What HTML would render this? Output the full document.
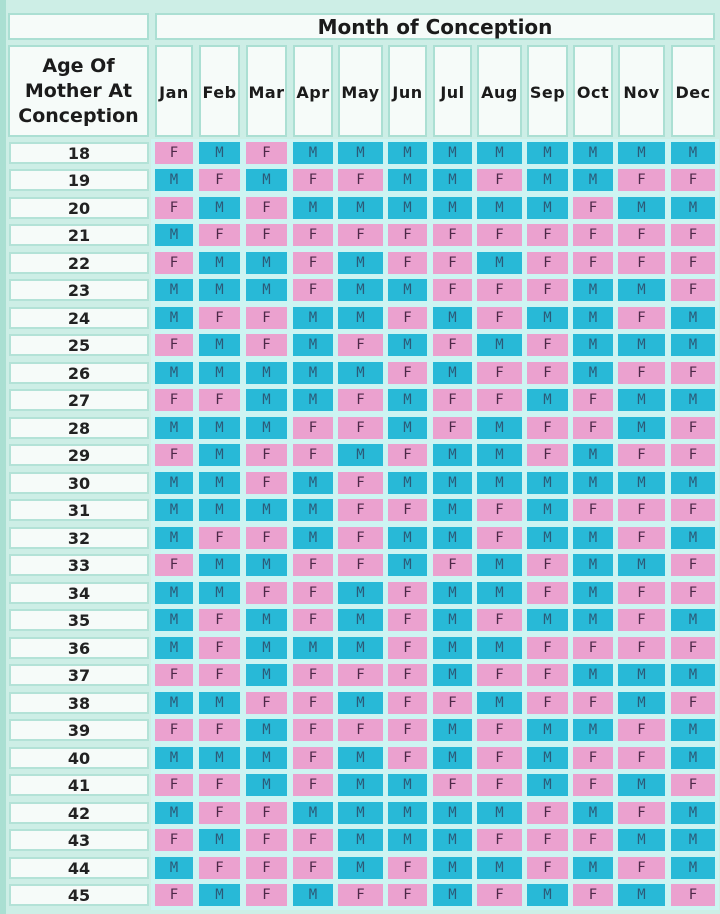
<!DOCTYPE html>
<html><head><meta charset="utf-8">
<style>
html,body{margin:0;padding:0;}
body{width:720px;height:914px;background:#cdeee6;position:relative;overflow:hidden;font-family:"DejaVu Sans","Liberation Sans",sans-serif;}
.lband{position:absolute;left:0;top:0;width:6px;height:914px;background:#aadfd2;}
.dbg{position:absolute;left:151px;top:139px;width:568px;height:771px;background:#cdf4f2;}
.hc{position:absolute;background:#f6fbf9;border:2px solid #abdfd3;box-sizing:border-box;color:#1b1b1b;font-weight:bold;display:flex;align-items:center;justify-content:center;text-align:center;}
.r{position:absolute;left:0;width:720px;height:22px;}
.r b{position:absolute;left:9px;width:140px;height:22px;top:0;background:#f6fbf9;border:2px solid #b3e2d7;box-sizing:border-box;font-size:16px;line-height:19px;text-align:center;color:#222;font-weight:bold;}
.r i{position:absolute;top:0;height:22px;font-style:normal;font-family:"DejaVu Sans Mono","Liberation Mono",monospace;font-size:14px;line-height:23px;text-align:center;}
.f{background:#eba1cf;color:#4d2848;}
.m{background:#28b9d7;color:#2c5a78;}
.r i:nth-of-type(1),.h:nth-of-type(1){left:155px;width:38px;}
.r i:nth-of-type(2),.h:nth-of-type(2){left:199px;width:41px;}
.r i:nth-of-type(3),.h:nth-of-type(3){left:246px;width:41px;}
.r i:nth-of-type(4),.h:nth-of-type(4){left:293px;width:40px;}
.r i:nth-of-type(5),.h:nth-of-type(5){left:338px;width:45px;}
.r i:nth-of-type(6),.h:nth-of-type(6){left:388px;width:39px;}
.r i:nth-of-type(7),.h:nth-of-type(7){left:433px;width:39px;}
.r i:nth-of-type(8),.h:nth-of-type(8){left:477px;width:45px;}
.r i:nth-of-type(9),.h:nth-of-type(9){left:527px;width:41px;}
.r i:nth-of-type(10),.h:nth-of-type(10){left:573px;width:40px;}
.r i:nth-of-type(11),.h:nth-of-type(11){left:618px;width:47px;}
.r i:nth-of-type(12),.h:nth-of-type(12){left:671px;width:44px;}
.hm{position:absolute;left:0;top:45px;width:720px;height:92px;}
.h{position:absolute;top:0;height:92px;background:#f6fbf9;border:2px solid #abdfd3;box-sizing:border-box;color:#1b1b1b;font-weight:bold;font-size:16px;line-height:92px;text-align:center;letter-spacing:0.5px;white-space:nowrap;overflow:visible;}
</style></head><body>
<div class="lband"></div>
<div class="dbg"></div>
<div class="hc" style="left:8px;top:13px;width:141px;height:27px;"></div>
<div class="hc" style="left:155px;top:13px;width:560px;height:27px;font-size:20px;">Month of Conception</div>
<div class="hc" style="left:8px;top:45px;width:141px;height:92px;font-size:19px;line-height:25px;">Age Of<br>Mother At<br>Conception</div>
<div class="hm"><span class="h">Jan</span><span class="h">Feb</span><span class="h">Mar</span><span class="h">Apr</span><span class="h">May</span><span class="h">Jun</span><span class="h">Jul</span><span class="h">Aug</span><span class="h">Sep</span><span class="h">Oct</span><span class="h">Nov</span><span class="h">Dec</span></div>

<div class="r" style="top:142px"><b>18</b><i class="f">F</i><i class="m">M</i><i class="f">F</i><i class="m">M</i><i class="m">M</i><i class="m">M</i><i class="m">M</i><i class="m">M</i><i class="m">M</i><i class="m">M</i><i class="m">M</i><i class="m">M</i></div>
<div class="r" style="top:169px"><b>19</b><i class="m">M</i><i class="f">F</i><i class="m">M</i><i class="f">F</i><i class="f">F</i><i class="m">M</i><i class="m">M</i><i class="f">F</i><i class="m">M</i><i class="m">M</i><i class="f">F</i><i class="f">F</i></div>
<div class="r" style="top:197px"><b>20</b><i class="f">F</i><i class="m">M</i><i class="f">F</i><i class="m">M</i><i class="m">M</i><i class="m">M</i><i class="m">M</i><i class="m">M</i><i class="m">M</i><i class="f">F</i><i class="m">M</i><i class="m">M</i></div>
<div class="r" style="top:224px"><b>21</b><i class="m">M</i><i class="f">F</i><i class="f">F</i><i class="f">F</i><i class="f">F</i><i class="f">F</i><i class="f">F</i><i class="f">F</i><i class="f">F</i><i class="f">F</i><i class="f">F</i><i class="f">F</i></div>
<div class="r" style="top:252px"><b>22</b><i class="f">F</i><i class="m">M</i><i class="m">M</i><i class="f">F</i><i class="m">M</i><i class="f">F</i><i class="f">F</i><i class="m">M</i><i class="f">F</i><i class="f">F</i><i class="f">F</i><i class="f">F</i></div>
<div class="r" style="top:279px"><b>23</b><i class="m">M</i><i class="m">M</i><i class="m">M</i><i class="f">F</i><i class="m">M</i><i class="m">M</i><i class="f">F</i><i class="f">F</i><i class="f">F</i><i class="m">M</i><i class="m">M</i><i class="f">F</i></div>
<div class="r" style="top:307px"><b>24</b><i class="m">M</i><i class="f">F</i><i class="f">F</i><i class="m">M</i><i class="m">M</i><i class="f">F</i><i class="m">M</i><i class="f">F</i><i class="m">M</i><i class="m">M</i><i class="f">F</i><i class="m">M</i></div>
<div class="r" style="top:334px"><b>25</b><i class="f">F</i><i class="m">M</i><i class="f">F</i><i class="m">M</i><i class="f">F</i><i class="m">M</i><i class="f">F</i><i class="m">M</i><i class="f">F</i><i class="m">M</i><i class="m">M</i><i class="m">M</i></div>
<div class="r" style="top:362px"><b>26</b><i class="m">M</i><i class="m">M</i><i class="m">M</i><i class="m">M</i><i class="m">M</i><i class="f">F</i><i class="m">M</i><i class="f">F</i><i class="f">F</i><i class="m">M</i><i class="f">F</i><i class="f">F</i></div>
<div class="r" style="top:389px"><b>27</b><i class="f">F</i><i class="f">F</i><i class="m">M</i><i class="m">M</i><i class="f">F</i><i class="m">M</i><i class="f">F</i><i class="f">F</i><i class="m">M</i><i class="f">F</i><i class="m">M</i><i class="m">M</i></div>
<div class="r" style="top:417px"><b>28</b><i class="m">M</i><i class="m">M</i><i class="m">M</i><i class="f">F</i><i class="f">F</i><i class="m">M</i><i class="f">F</i><i class="m">M</i><i class="f">F</i><i class="f">F</i><i class="m">M</i><i class="f">F</i></div>
<div class="r" style="top:444px"><b>29</b><i class="f">F</i><i class="m">M</i><i class="f">F</i><i class="f">F</i><i class="m">M</i><i class="f">F</i><i class="m">M</i><i class="m">M</i><i class="f">F</i><i class="m">M</i><i class="f">F</i><i class="f">F</i></div>
<div class="r" style="top:472px"><b>30</b><i class="m">M</i><i class="m">M</i><i class="f">F</i><i class="m">M</i><i class="f">F</i><i class="m">M</i><i class="m">M</i><i class="m">M</i><i class="m">M</i><i class="m">M</i><i class="m">M</i><i class="m">M</i></div>
<div class="r" style="top:499px"><b>31</b><i class="m">M</i><i class="m">M</i><i class="m">M</i><i class="m">M</i><i class="f">F</i><i class="f">F</i><i class="m">M</i><i class="f">F</i><i class="m">M</i><i class="f">F</i><i class="f">F</i><i class="f">F</i></div>
<div class="r" style="top:527px"><b>32</b><i class="m">M</i><i class="f">F</i><i class="f">F</i><i class="m">M</i><i class="f">F</i><i class="m">M</i><i class="m">M</i><i class="f">F</i><i class="m">M</i><i class="m">M</i><i class="f">F</i><i class="m">M</i></div>
<div class="r" style="top:554px"><b>33</b><i class="f">F</i><i class="m">M</i><i class="m">M</i><i class="f">F</i><i class="f">F</i><i class="m">M</i><i class="f">F</i><i class="m">M</i><i class="f">F</i><i class="m">M</i><i class="m">M</i><i class="f">F</i></div>
<div class="r" style="top:582px"><b>34</b><i class="m">M</i><i class="m">M</i><i class="f">F</i><i class="f">F</i><i class="m">M</i><i class="f">F</i><i class="m">M</i><i class="m">M</i><i class="f">F</i><i class="m">M</i><i class="f">F</i><i class="f">F</i></div>
<div class="r" style="top:609px"><b>35</b><i class="m">M</i><i class="f">F</i><i class="m">M</i><i class="f">F</i><i class="m">M</i><i class="f">F</i><i class="m">M</i><i class="f">F</i><i class="m">M</i><i class="m">M</i><i class="f">F</i><i class="m">M</i></div>
<div class="r" style="top:637px"><b>36</b><i class="m">M</i><i class="f">F</i><i class="m">M</i><i class="m">M</i><i class="m">M</i><i class="f">F</i><i class="m">M</i><i class="m">M</i><i class="f">F</i><i class="f">F</i><i class="f">F</i><i class="f">F</i></div>
<div class="r" style="top:664px"><b>37</b><i class="f">F</i><i class="f">F</i><i class="m">M</i><i class="f">F</i><i class="f">F</i><i class="f">F</i><i class="m">M</i><i class="f">F</i><i class="f">F</i><i class="m">M</i><i class="m">M</i><i class="m">M</i></div>
<div class="r" style="top:692px"><b>38</b><i class="m">M</i><i class="m">M</i><i class="f">F</i><i class="f">F</i><i class="m">M</i><i class="f">F</i><i class="f">F</i><i class="m">M</i><i class="f">F</i><i class="f">F</i><i class="m">M</i><i class="f">F</i></div>
<div class="r" style="top:719px"><b>39</b><i class="f">F</i><i class="f">F</i><i class="m">M</i><i class="f">F</i><i class="f">F</i><i class="f">F</i><i class="m">M</i><i class="f">F</i><i class="m">M</i><i class="m">M</i><i class="f">F</i><i class="m">M</i></div>
<div class="r" style="top:747px"><b>40</b><i class="m">M</i><i class="m">M</i><i class="m">M</i><i class="f">F</i><i class="m">M</i><i class="f">F</i><i class="m">M</i><i class="f">F</i><i class="m">M</i><i class="f">F</i><i class="f">F</i><i class="m">M</i></div>
<div class="r" style="top:774px"><b>41</b><i class="f">F</i><i class="f">F</i><i class="m">M</i><i class="f">F</i><i class="m">M</i><i class="m">M</i><i class="f">F</i><i class="f">F</i><i class="m">M</i><i class="f">F</i><i class="m">M</i><i class="f">F</i></div>
<div class="r" style="top:802px"><b>42</b><i class="m">M</i><i class="f">F</i><i class="f">F</i><i class="m">M</i><i class="m">M</i><i class="m">M</i><i class="m">M</i><i class="m">M</i><i class="f">F</i><i class="m">M</i><i class="f">F</i><i class="m">M</i></div>
<div class="r" style="top:829px"><b>43</b><i class="f">F</i><i class="m">M</i><i class="f">F</i><i class="f">F</i><i class="m">M</i><i class="m">M</i><i class="m">M</i><i class="f">F</i><i class="f">F</i><i class="f">F</i><i class="m">M</i><i class="m">M</i></div>
<div class="r" style="top:857px"><b>44</b><i class="m">M</i><i class="f">F</i><i class="f">F</i><i class="f">F</i><i class="m">M</i><i class="f">F</i><i class="m">M</i><i class="m">M</i><i class="f">F</i><i class="m">M</i><i class="f">F</i><i class="m">M</i></div>
<div class="r" style="top:884px"><b>45</b><i class="f">F</i><i class="m">M</i><i class="f">F</i><i class="m">M</i><i class="f">F</i><i class="f">F</i><i class="m">M</i><i class="f">F</i><i class="m">M</i><i class="f">F</i><i class="m">M</i><i class="f">F</i></div>
</body></html>
